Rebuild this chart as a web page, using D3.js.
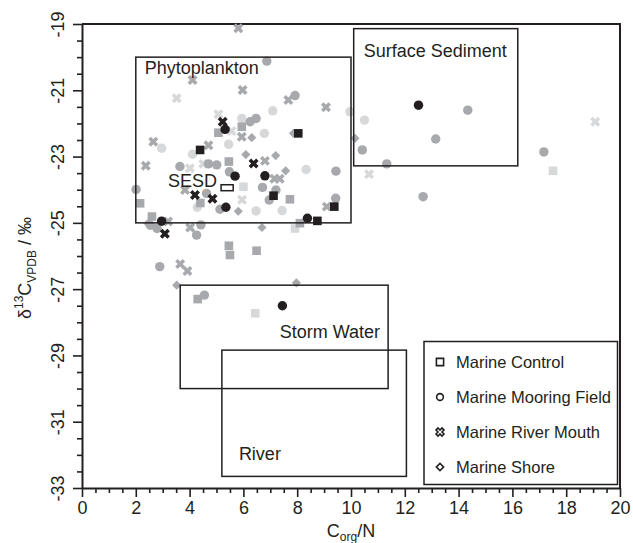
<!DOCTYPE html>
<html><head><meta charset="utf-8">
<script src="https://cdn.jsdelivr.net/npm/d3@7"></script>
<style>
html,body{margin:0;padding:0;background:#fff;}
svg{display:block;font-family:"Liberation Sans",Arial,Helvetica,sans-serif;}
</style></head>
<body>
<svg id="chart" width="633" height="543"></svg>
<script>
// ---------- data (C_org/N, δ13C, shade group: 0 light, 1 medium, 2 dark) ----------
const controlCN   = [8.04, 4.39, 9.38, 8.75, 7.12, 5.07, 5.94, 5.46, 2.16, 2.60, 4.40, 7.73, 5.46, 5.50, 6.49, 8.10, 4.30, 6.00, 7.92, 17.51, 6.44];
const controlD13C = [-22.30,-22.80,-24.51,-24.94,-24.18,-22.28,-22.10,-23.15,-24.41,-24.81,-24.40,-24.29,-25.69,-25.97,-25.84,-25.01,-27.30,-23.91,-25.17,-23.43,-27.73];
const controlShade= [2,2,2,2,2,1,1,1,1,1,1,1,1,1,1,1,1,0,0,0,0];

const mooringCN   = [5.32, 5.69, 6.80, 5.35, 2.96, 8.38, 12.51, 7.45,
                     6.87, 7.92, 6.47, 6.25, 10.42, 11.33, 9.44, 9.43, 14.34, 13.15, 17.17, 12.68, 3.64, 4.70, 5.01, 5.48, 4.63, 5.13, 6.71, 7.21, 6.96, 2.01, 2.54, 2.79, 4.42, 4.26, 2.89, 4.55,
                     7.09, 5.94, 6.78, 9.96, 10.50, 8.33, 2.96, 5.45, 4.11, 4.29, 6.47, 7.44];
const mooringD13C = [-22.18,-23.59,-23.58,-24.53,-24.95,-24.86,-21.45,-27.50,
                     -20.12,-21.16,-21.85,-21.95,-22.80,-23.22,-23.44,-24.26,-21.60,-22.47,-22.86,-24.21,-23.30,-23.22,-23.25,-23.46,-24.11,-24.59,-23.93,-24.01,-24.31,-23.99,-25.07,-25.17,-25.06,-25.37,-26.32,-27.18,
                     -21.62,-21.85,-22.30,-21.65,-21.90,-23.39,-22.75,-22.63,-22.93,-24.53,-24.64,-24.63];
const mooringShade= [2,2,2,2,2,2,2,2,
                     1,1,1,1,1,1,1,1,1,1,1,1,1,1,1,1,1,1,1,1,1,1,1,1,1,1,1,1,
                     0,0,0,0,0,0,0,0,0,0,0,0];

const riverMouthCN   = [5.23, 6.38, 4.20, 4.85, 3.08,
                        5.81, 4.11, 5.97, 7.67, 9.07, 5.94, 4.70, 2.65, 2.37, 6.80, 7.15, 7.35, 3.83, 9.10, 3.20, 4.02, 3.65, 3.92,
                        3.52, 5.07, 5.56, 4.01, 4.51, 5.95, 10.67, 19.08];
const riverMouthD13C = [-21.95,-23.21,-24.16,-24.27,-25.33,
                        -19.13,-20.69,-20.99,-21.29,-21.51,-22.40,-22.66,-22.55,-23.28,-23.13,-23.67,-23.67,-24.01,-24.51,-24.96,-25.14,-26.24,-26.45,
                        -21.24,-21.72,-22.23,-23.35,-23.22,-24.30,-23.53,-21.95];
const riverMouthShade= [2,2,2,2,2,
                        1,1,1,1,1,1,1,1,1,1,1,1,1,1,1,1,1,1,
                        0,0,0,0,0,0,0,0];

const shoreCN   = [6.31, 7.86, 6.09, 7.20, 7.57, 10.15, 5.81, 6.69, 3.52, 7.97, 2.45];
const shoreD13C = [-22.43,-22.30,-22.94,-22.97,-23.43,-22.45,-24.65,-25.14,-26.88,-26.81,-25.02];
const shoreShade= [1,1,1,1,1,1,1,1,1,1,1];

const seriesNames = ["Marine Control","Marine Mooring Field","Marine River Mouth","Marine Shore"];

// source boxes (C/N range, δ13C range)
const boxNames = ["Phytoplankton","Surface Sediment","SESD","Storm Water","River"];
const boxCN0   = [2.0, 10.1, 5.17, 3.65, 5.2];
const boxCN1   = [10.0, 16.2, 5.62, 11.38, 12.06];
const boxD0    = [-20.0, -19.14, -23.85, -26.88, -28.84];
const boxD1    = [-25.0, -23.28, -24.03, -30.0, -32.65];

const xMajorTicks = [0,2,4,6,8,10,12,14,16,18,20];
const yMajorTicks = [-33,-31,-29,-27,-25,-23,-21,-19];

// ---------- drawing ----------
const svg = d3.select("#chart");
const L = 82, R = 620, T = 24, B = 488;
const x = d3.scaleLinear().domain([0,20]).range([L,R]);
const y = d3.scaleLinear().domain([-33,-19]).range([B,T]);
const shadeColor = d3.scaleOrdinal().domain([0,1,2]).range(["#d7d8da","#a7a9ac","#231f20"]);

// frame top/right
svg.append("path").attr("d",`M${L},${T}H${R}V${B}`).attr("fill","none").attr("stroke","#231f20").attr("stroke-width",2);

// axes
const fontTick = "18px";
const xMinor = d3.range(0,20.001,0.5).filter(v=>v%2!==0);
const yMinor = d3.range(-33,-18.999,0.5).filter(v=>Math.abs(v%2)!==1);

const gxm = svg.append("g").attr("transform",`translate(0,${B})`)
  .call(d3.axisBottom(x).tickValues(xMinor).tickSize(5).tickFormat(""));
gxm.select(".domain").remove();
const gx = svg.append("g").attr("transform",`translate(0,${B})`)
  .call(d3.axisBottom(x).tickValues(xMajorTicks).tickSize(9).tickSizeOuter(0).tickPadding(5));
gx.selectAll("text").attr("font-size",fontTick).attr("fill","#231f20").attr("dy","0.95em").attr("y",9);

const gym = svg.append("g").attr("transform",`translate(${L},0)`)
  .call(d3.axisLeft(y).tickValues(yMinor).tickSize(5).tickFormat(""));
gym.select(".domain").remove();
const gy = svg.append("g").attr("transform",`translate(${L},0)`)
  .call(d3.axisLeft(y).tickValues(yMajorTicks).tickSize(9).tickSizeOuter(0).tickFormat(d=>String(d)));
gy.selectAll("text").attr("font-size",fontTick).attr("fill","#231f20")
  .attr("transform","rotate(-90)").attr("text-anchor","middle").attr("x",0).attr("y",-18).attr("dy",0);
[gx,gy,gxm,gym].forEach(g=>{
  g.selectAll("line").attr("stroke","#231f20").attr("stroke-width",1.6);
  g.selectAll(".domain").attr("stroke","#231f20").attr("stroke-width",2);
  g.attr("font-family",null);
});

// axis titles
const xt = svg.append("text").attr("x",351).attr("y",537).attr("text-anchor","middle")
  .attr("font-size","18px").attr("fill","#231f20");
xt.append("tspan").text("C");
xt.append("tspan").attr("font-size","12px").attr("dy",4).text("org");
xt.append("tspan").attr("dy",-4).text("/N");

const yt = svg.append("text").attr("transform","translate(31,268) rotate(-90)").attr("text-anchor","middle")
  .attr("font-size","18px").attr("fill","#231f20");
yt.append("tspan").text("δ");
yt.append("tspan").attr("font-size","12px").attr("dy",-8).text("13");
yt.append("tspan").attr("dy",8).text("C");
yt.append("tspan").attr("font-size","12px").attr("dy",5).text("VPDB");
yt.append("tspan").attr("dy",-5).text(" / ‰");

// markers
const symSquare = d3.symbol().type(d3.symbolSquare).size(74)();
const symCircle = d3.symbol().type(d3.symbolCircle).size(70)();
const symCross  = d3.symbol().type(d3.symbolCross).size(62)();
const symDiamond= d3.symbol().type(d3.symbolSquare).size(42)();
const shapes = [
  {cn:controlCN, d:controlD13C, s:controlShade, path:symSquare, rot:0},
  {cn:mooringCN, d:mooringD13C, s:mooringShade, path:symCircle, rot:0},
  {cn:riverMouthCN, d:riverMouthD13C, s:riverMouthShade, path:symCross, rot:45},
  {cn:shoreCN, d:shoreD13C, s:shoreShade, path:symDiamond, rot:45}
];
const pts = [];
shapes.forEach((sh,si)=>sh.cn.forEach((v,i)=>pts.push({cn:v, d:sh.d[i], shade:sh.s[i], path:sh.path, rot:sh.rot, si})));
pts.sort((a,b)=>a.shade-b.shade);
svg.append("g").selectAll("path").data(pts).join("path")
  .attr("d",p=>p.path)
  .attr("transform",p=>`translate(${x(p.cn)},${y(p.d)}) rotate(${p.rot})`)
  .attr("fill",p=>shadeColor(p.shade));

// source boxes
const boxes = boxNames.map((n,i)=>({n, x0:boxCN0[i], x1:boxCN1[i], y0:boxD0[i], y1:boxD1[i]}));
svg.append("g").selectAll("rect").data(boxes).join("rect")
  .attr("x",b=>x(b.x0)).attr("y",b=>y(b.y0))
  .attr("width",b=>x(b.x1)-x(b.x0)).attr("height",b=>y(b.y1)-y(b.y0))
  .attr("fill","none").attr("stroke","#231f20").attr("stroke-width",1.5);

const labelPos = { // pixel placement relative to each box
  "Phytoplankton":   b=>[x(b.x0)+9,  y(b.y0)+17, "start"],
  "Surface Sediment":b=>[x(b.x0)+10, y(b.y0)+28.5, "start"],
  "SESD":            b=>[x(b.x0)-4,  y(b.y1)-3.5, "end"],
  "Storm Water":     b=>[x(b.x1)-8,  y(b.y0)+52.5, "end"],
  "River":           b=>[x(b.x0)+17, y(b.y1)-16, "start"]
};
svg.append("g").selectAll("text").data(boxes).join("text")
  .each(function(b){
    const [px,py,anc] = labelPos[b.n](b);
    d3.select(this).attr("x",px).attr("y",py).attr("text-anchor",anc);
  })
  .attr("font-size","18px").attr("fill","#231f20").text(b=>b.n);

// legend
const lg = svg.append("g");
lg.append("rect").attr("x",424).attr("y",341.5).attr("width",193.5).attr("height",143)
  .attr("fill","#fff").attr("stroke","#231f20").attr("stroke-width",1.5);
const legSyms = [
  d3.symbol().type(d3.symbolSquare).size(52)(),
  d3.symbol().type(d3.symbolCircle).size(36)(),
  d3.symbol().type(d3.symbolCross).size(40)(),
  d3.symbol().type(d3.symbolSquare).size(26)()
];
const legRot = [0,0,45,45];
seriesNames.forEach((n,i)=>{
  const cy = 362 + i*35;
  lg.append("path").attr("d",legSyms[i]).attr("transform",`translate(440,${cy}) rotate(${legRot[i]})`)
    .attr("fill","#fff").attr("stroke","#231f20").attr("stroke-width",1.6);
  lg.append("text").attr("x",456).attr("y",cy+6).attr("font-size","16.5px").attr("fill","#231f20").text(n);
});
</script>
</body></html>
